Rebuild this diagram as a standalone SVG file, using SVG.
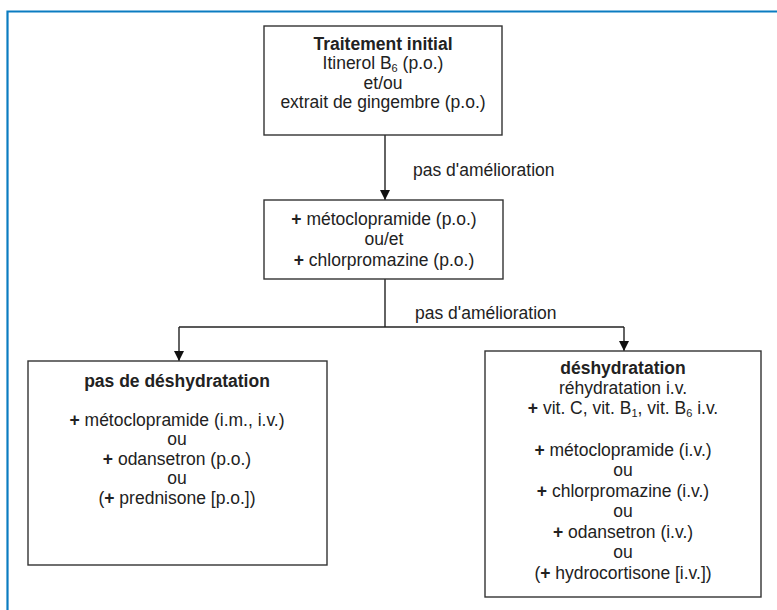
<svg xmlns="http://www.w3.org/2000/svg" width="777" height="610" viewBox="0 0 777 610">
<style>
  .box { fill: #ffffff; stroke: #333333; stroke-width: 1.4; }
  .t { font-family: "Liberation Sans", Arial, Helvetica, sans-serif; font-size: 17.5px; fill: #222222; text-anchor: middle; }
  .b { font-weight: bold; }
  .lbl { font-family: "Liberation Sans", Arial, Helvetica, sans-serif; font-size: 17.5px; fill: #222222; }
  .sub { font-size: 11px; }
  .edge { fill: none; stroke: #222222; stroke-width: 1.4; }
  .frame { fill: none; stroke: #0b7cc1; stroke-width: 2.2; }
</style>
<defs>
  <marker id="arrow" viewBox="0 0 10 10" refX="10" refY="5" markerWidth="10" markerHeight="10" markerUnits="userSpaceOnUse" orient="auto">
    <path d="M0,0 L10,5 L0,10 Z" fill="#111111"/>
  </marker>
</defs>
<rect x="0" y="0" width="777" height="610" fill="#ffffff"/>
<path class="frame" d="M7.5,610 L7.5,11.5 L777,11.5"/>

<g id="connectors">
  <line class="edge" x1="385" y1="135" x2="385" y2="200" marker-end="url(#arrow)"/>
  <text class="lbl" x="413" y="176">pas d'amélioration</text>
  <polyline class="edge" points="385,279 385,327"/>
  <polyline class="edge" points="179,327 624,327"/>
  <line class="edge" x1="179" y1="327" x2="179" y2="361" marker-end="url(#arrow)"/>
  <line class="edge" x1="624" y1="327" x2="624" y2="351" marker-end="url(#arrow)"/>
  <text class="lbl" x="415" y="319">pas d'amélioration</text>
</g>

<g id="n1">
  <rect class="box" x="264" y="26" width="238" height="109"/>
  <text class="t b" x="383" y="50">Traitement initial</text>
  <text class="t" x="383" y="69">Itinerol B<tspan class="sub" dy="3">6</tspan><tspan dy="-3"> (p.o.)</tspan></text>
  <text class="t" x="383" y="89">et/ou</text>
  <text class="t" x="383" y="108">extrait de gingembre (p.o.)</text>
</g>

<g id="n2">
  <rect class="box" x="264" y="200" width="239" height="79"/>
  <text class="t" x="384" y="225"><tspan class="b">+</tspan> métoclopramide (p.o.)</text>
  <text class="t" x="384" y="245">ou/et</text>
  <text class="t" x="384" y="266"><tspan class="b">+</tspan> chlorpromazine (p.o.)</text>
</g>

<g id="n3">
  <rect class="box" x="28" y="361" width="299" height="204"/>
  <text class="t b" x="177" y="387">pas de déshydratation</text>
  <text class="t" x="177" y="426"><tspan class="b">+</tspan> métoclopramide (i.m., i.v.)</text>
  <text class="t" x="177" y="445">ou</text>
  <text class="t" x="177" y="465"><tspan class="b">+</tspan> odansetron (p.o.)</text>
  <text class="t" x="177" y="484">ou</text>
  <text class="t" x="177" y="504">(<tspan class="b">+</tspan> prednisone [p.o.])</text>
</g>

<g id="n4">
  <rect class="box" x="485" y="351" width="276" height="246"/>
  <text class="t b" x="623" y="374">déshydratation</text>
  <text class="t" x="623" y="394">réhydratation i.v.</text>
  <text class="t" x="623" y="414"><tspan class="b">+</tspan> vit. C, vit. B<tspan class="sub" dy="3">1</tspan><tspan dy="-3">, vit. B</tspan><tspan class="sub" dy="3">6</tspan><tspan dy="-3"> i.v.</tspan></text>
  <text class="t" x="623" y="456"><tspan class="b">+</tspan> métoclopramide (i.v.)</text>
  <text class="t" x="623" y="476">ou</text>
  <text class="t" x="623" y="497"><tspan class="b">+</tspan> chlorpromazine (i.v.)</text>
  <text class="t" x="623" y="517">ou</text>
  <text class="t" x="623" y="538"><tspan class="b">+</tspan> odansetron (i.v.)</text>
  <text class="t" x="623" y="558">ou</text>
  <text class="t" x="623" y="579">(<tspan class="b">+</tspan> hydrocortisone [i.v.])</text>
</g>
</svg>
